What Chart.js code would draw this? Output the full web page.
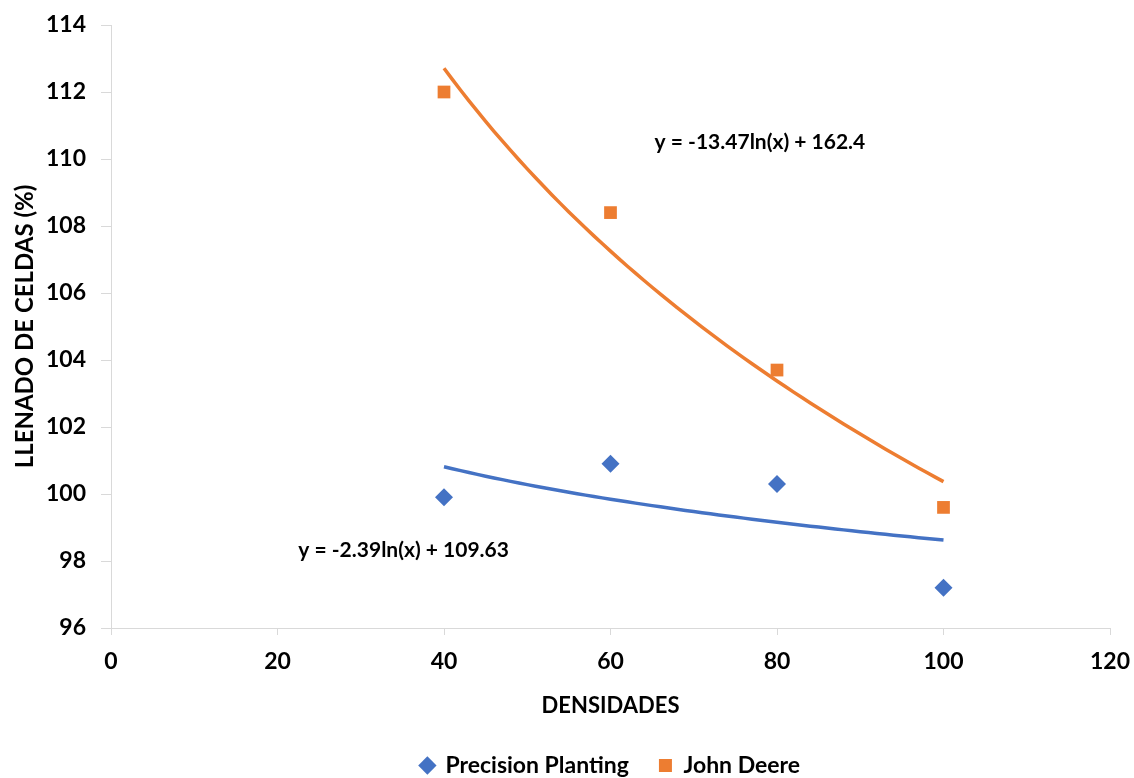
<!DOCTYPE html>
<html>
<head>
<meta charset="utf-8">
<script src="https://cdn.jsdelivr.net/npm/chart.js@4.4.1/dist/chart.umd.min.js"></script>
<style>
  html, body { margin: 0; padding: 0; background: #fff; }
  #wrap { width: 1134px; height: 778px; }
</style>
</head>
<body>
<div id="wrap"><canvas id="chart" width="1134" height="778"></canvas></div>
<script>
// densidades
const densidades = [40, 60, 80, 100];
// llenado de celdas (%)
const precisionPlanting = [99.9, 100.9, 100.3, 97.2];
const johnDeere = [112.0, 108.4, 103.7, 99.6];

const xTicks = [0, 20, 40, 60, 80, 100, 120];
const yTicks = [96, 98, 100, 102, 104, 106, 108, 110, 112, 114];

const ppTrend = { a: -2.39, b: 109.63, label: 'y = -2.39ln(x) + 109.63' };
const jdTrend = { a: -13.47, b: 162.4, label: 'y = -13.47ln(x) + 162.4' };

const BLUE = '#4472C4';
const ORANGE = '#ED7D31';
const FONT = 'Lato, "Open Sans", sans-serif';

function trendPoints(t) {
  const pts = [];
  const x0 = densidades[0];
  const x1 = densidades[densidades.length - 1];
  for (let x = x0; x <= x1; x += 1) {
    pts.push({ x: x, y: t.a * Math.log(x) + t.b });
  }
  return pts;
}

const toPoints = (ys) => densidades.map((x, i) => ({ x: x, y: ys[i] }));

// etiquetas de las ecuaciones
const equationLabels = {
  id: 'equationLabels',
  afterDatasetsDraw(chart) {
    const { ctx, scales } = chart;
    ctx.save();
    ctx.font = 'bold 21px ' + FONT;
    ctx.fillStyle = '#000';
    ctx.textBaseline = 'middle';
    ctx.textAlign = 'left';
    ctx.fillText(jdTrend.label, scales.x.getPixelForValue(65.3), scales.y.getPixelForValue(110.5));
    ctx.fillText(ppTrend.label, scales.x.getPixelForValue(22.5), scales.y.getPixelForValue(98.33));
    ctx.restore();
  }
};

new Chart(document.getElementById('chart'), {
  type: 'scatter',
  data: {
    datasets: [
      {
        label: 'Precision Planting',
        data: toPoints(precisionPlanting),
        backgroundColor: BLUE,
        borderColor: BLUE,
        pointStyle: 'rectRot',
        pointRadius: 9,
        pointHoverRadius: 9,
        borderWidth: 0,
        order: 1
      },
      {
        label: 'John Deere',
        data: toPoints(johnDeere),
        backgroundColor: ORANGE,
        borderColor: ORANGE,
        pointStyle: 'rect',
        pointRadius: 9,
        pointHoverRadius: 9,
        borderWidth: 0,
        order: 1
      },
      {
        label: 'trend-pp',
        type: 'line',
        data: trendPoints(ppTrend),
        borderColor: BLUE,
        borderWidth: 3.5,
        pointRadius: 0,
        tension: 0,
        fill: false,
        order: 2
      },
      {
        label: 'trend-jd',
        type: 'line',
        data: trendPoints(jdTrend),
        borderColor: ORANGE,
        borderWidth: 3.5,
        pointRadius: 0,
        tension: 0,
        fill: false,
        order: 2
      }
    ]
  },
  options: {
    responsive: false,
    animation: false,
    devicePixelRatio: 1,
    layout: { padding: { top: 25, right: 24, left: 0, bottom: 0 } },
    plugins: {
      tooltip: { enabled: false },
      legend: {
        position: 'bottom',
        fullSize: false,
        maxHeight: 54,
        labels: {
          filter: (item) => !item.text.startsWith('trend'),
          usePointStyle: true,
          boxWidth: 13,
          boxHeight: 13,
          padding: 30,
          color: '#000',
          font: { family: FONT, size: 23, weight: 'bold' }
        }
      }
    },
    scales: {
      x: {
        type: 'linear',
        min: 0,
        max: 120,
        afterBuildTicks: (scale) => { scale.ticks = xTicks.map(v => ({ value: v })); },
        afterFit: (scale) => {
          scale.height = 96;
          scale.paddingLeft = 0;
          scale.paddingRight = 0;
        },
        border: { display: true, color: '#d9d9d9', width: 1 },
        grid: { display: true, drawOnChartArea: false, drawTicks: true, tickLength: 7, color: '#d9d9d9' },
        ticks: { color: '#000', padding: 13, font: { family: FONT, size: 23, weight: 'bold' } },
        title: {
          display: true,
          text: 'DENSIDADES',
          color: '#000',
          padding: { top: 0, bottom: 5 },
          font: { family: FONT, size: 22, weight: 'bold' }
        }
      },
      y: {
        min: 96,
        max: 114,
        afterBuildTicks: (scale) => { scale.ticks = yTicks.map(v => ({ value: v })); },
        afterFit: (scale) => {
          scale.width = 111;
          scale.paddingTop = 0;
          scale.paddingBottom = 0;
        },
        border: { display: true, color: '#d9d9d9', width: 1 },
        grid: { display: true, drawOnChartArea: false, drawTicks: true, tickLength: 10, color: '#d9d9d9' },
        ticks: { color: '#000', padding: 15, font: { family: FONT, size: 23, weight: 'bold' } },
        title: {
          display: true,
          text: 'LLENADO DE CELDAS (%)',
          color: '#000',
          padding: { top: 11, bottom: 0 },
          font: { family: FONT, size: 24, weight: 'bold' }
        }
      }
    }
  },
  plugins: [equationLabels]
});
</script>
</body>
</html>
